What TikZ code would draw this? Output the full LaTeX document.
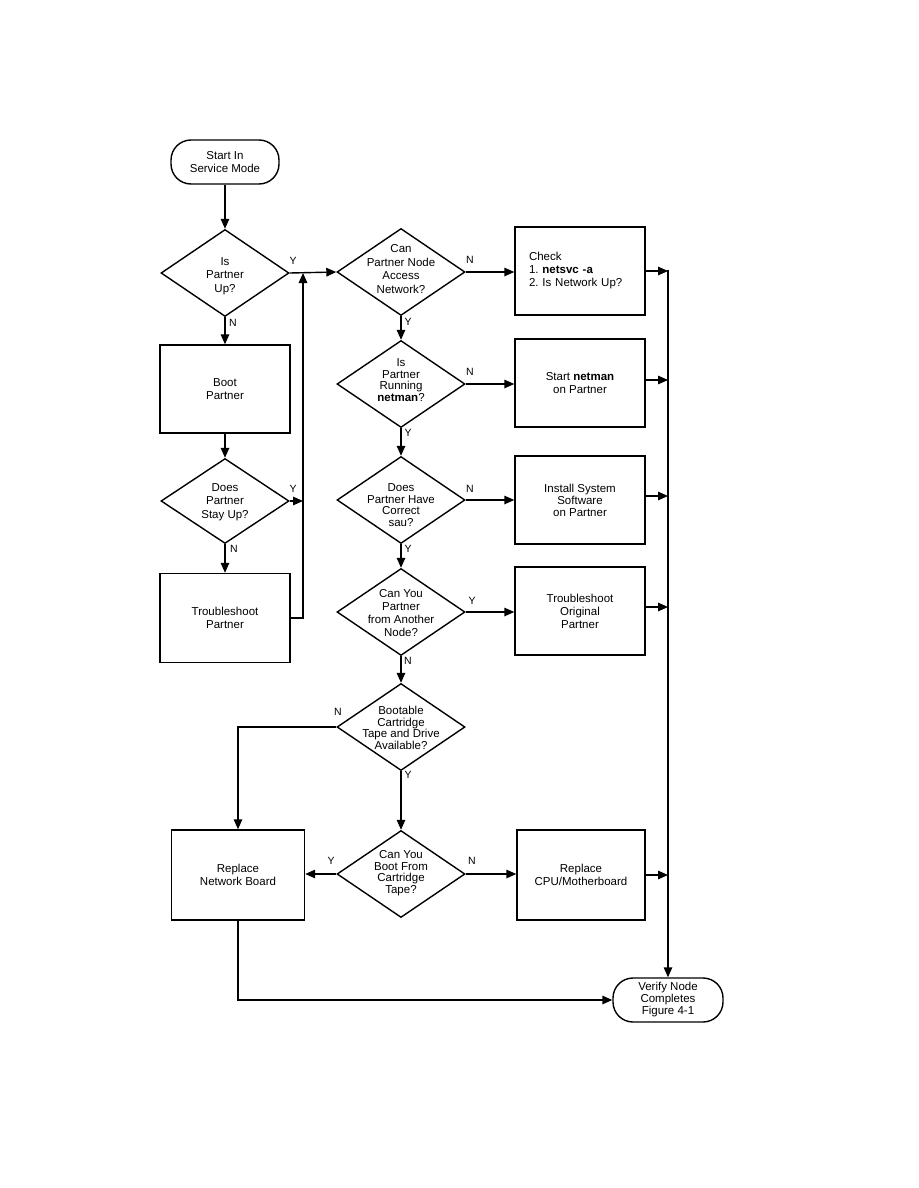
\documentclass[tikz,border=0pt]{standalone}
\usepackage{fontspec}
\setmainfont{Liberation Sans}
\frenchspacing
\usetikzlibrary{shapes.geometric,arrows.meta}
\begin{document}
\begin{tikzpicture}[x=1pt,y=-1pt,
 font=\fontsize{11.5}{13}\selectfont,
 line width=1.4pt,
 arr/.style={-{Triangle[length=10pt,width=8.5pt]}},
 proc/.style={draw, rectangle, minimum width=130pt, minimum height=88pt, align=center, inner sep=2pt},
 term/.style={draw, rectangle, rounded corners=20pt, minimum width=108pt, minimum height=44pt, align=center, inner sep=2pt},
 dec/.style={draw, diamond, minimum width=128pt, minimum height=87pt, inner sep=0pt},
 dtxt/.style={align=center, inner sep=0pt, font=\fontsize{11.5}{13.5}\selectfont},
 dtight/.style={align=center, inner sep=0pt, font=\fontsize{11.5}{11.5}\selectfont},
 yn/.style={font=\fontsize{10.5}{12}\selectfont, inner sep=0pt}]
\useasboundingbox (0,0) rectangle (918,1188);

% left column
\node[term] (start) at (225,162) {Start In\\Service Mode};
\node[dec] (d1) at (225,273) {};
\node[dtxt] (t1) at (225,276) {Is\\Partner\\Up?};
\node[proc] (boot) at (225,389) {Boot\\Partner};
\node[dec, minimum height=85pt] (d3) at (225,501) {};
\node[dtxt] (t3) at (225,502) {Does\\Partner\\Stay Up?};
\node[proc, minimum height=89pt] (tp) at (225,618) {Troubleshoot\\Partner};

% middle column
\node[dec] (d2) at (401,272) {};
\node[dtxt] (t2) at (401,269) {Can\\Partner Node\\Access\\Network?};
\node[dec] (d4) at (401,384) {};
\node[dtight] (t4) at (401,380) {Is\\Partner\\Running\\\textbf{netman}?};
\node[dec] (d5) at (401,500) {};
\node[dtight] (t5) at (401,505) {Does\\Partner Have\\Correct\\sau?};
\node[dec] (d6) at (401,612) {};
\node[dtight, font=\fontsize{11.5}{13}\selectfont] (t6) at (401,613) {Can You\\Partner\\from Another\\Node?};
\node[dec] (d7) at (401,727) {};
\node[dtight] (t7) at (401,728) {Bootable\\Cartridge\\Tape and Drive\\Available?};
\node[dec] (d8) at (401,874) {};
\node[dtight] (t8) at (401,873) {Can You\\Boot From\\Cartridge\\Tape?};

% right column
\node[proc, align=left, text width=102pt, inner xsep=14pt] (check) at (580,271) {Check\\1. \textbf{netsvc -a}\\2. Is Network Up?};
\node[proc] (netman) at (580,383) {Start \textbf{netman}\\on Partner};
\node[proc, font=\fontsize{11.5}{12}\selectfont] (install) at (580,500) {Install System\\Software\\on Partner};
\node[proc] (orig) at (580,611) {Troubleshoot\\Original\\Partner};
\node[proc, minimum width=133pt, minimum height=90pt] (rnb) at (238,875) {Replace\\Network Board};
\node[proc, minimum width=128pt, minimum height=90pt] (cpu) at (581,875) {Replace\\CPU/Motherboard};
\node[term, minimum width=110pt, font=\fontsize{11.5}{12}\selectfont] (verify) at (668,1000) {Verify Node\\Completes\\Figure 4-1};

\coordinate (bus) at (668,270);
\coordinate (j1) at (303,273);

% connectors left
\draw[arr] (start) -- (d1);
\draw[arr] (d1) -- (boot);
\draw[arr] (boot) -- (d3);
\draw[arr] (d3) -- (tp);
\draw[arr] (tp.east) -| (j1);
\draw[arr] (d3.east) -- (d3.east -| j1);
\draw[arr] (d1.east) -- (d2.west);

% connectors middle
\draw[arr] (d2) -- (d4);
\draw[arr] (d4) -- (d5);
\draw[arr] (d5) -- (d6);
\draw[arr] (d6) -- (d7);
\draw[arr] (d7) -- (d8);
\draw[arr] (d2.east) -- (d2.east -| check.west);
\draw[arr] (d4.east) -- (d4.east -| netman.west);
\draw[arr] (d5.east) -- (d5.east -| install.west);
\draw[arr] (d6.east) -- (d6.east -| orig.west);
\draw[arr] (d7.west) -| (rnb.north);
\draw[arr] (d8.west) -- (d8.west -| rnb.east);
\draw[arr] (d8.east) -- (d8.east -| cpu.west);

% bus
\draw[arr] (bus) -- (verify.north);
\draw[arr] (check.east) -- (check.east -| bus);
\draw[arr] ([yshift=3pt]netman.east) -- ([yshift=3pt]netman.east -| bus);
\draw[arr] ([yshift=4pt]install.east) -- ([yshift=4pt]install.east -| bus);
\draw[arr] ([yshift=4pt]orig.east) -- ([yshift=4pt]orig.east -| bus);
\draw[arr] (cpu.east) -- (cpu.east -| bus);
\draw[arr] (rnb.south) |- (verify.west);

% labels
\node[yn] (y1) at (293,261) {Y};
\node[yn] (n1) at (233,323) {N};
\node[yn] (n2) at (470,260) {N};
\node[yn] (y2) at (408,322) {Y};
\node[yn] (n4) at (470,372) {N};
\node[yn] (y4) at (408,433) {Y};
\node[yn] (n5) at (470,489) {N};
\node[yn] (y5) at (408,549) {Y};
\node[yn] (y6) at (472,601) {Y};
\node[yn] (n6) at (408,661) {N};
\node[yn] (y3) at (293,489) {Y};
\node[yn] (n3) at (234,549) {N};
\node[yn] (n7) at (338,712) {N};
\node[yn] (y7) at (408,775) {Y};
\node[yn] (y8) at (331,861) {Y};
\node[yn] (n8) at (472,861) {N};
\end{tikzpicture}
\end{document}
